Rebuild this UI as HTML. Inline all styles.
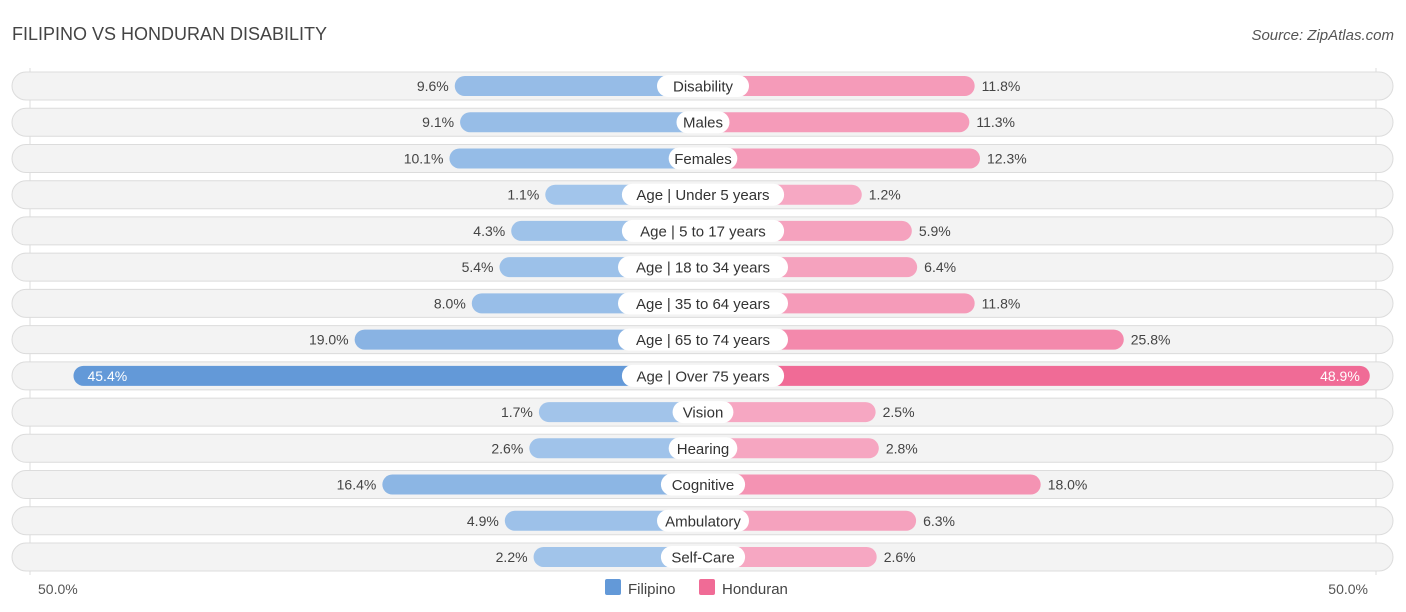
<!DOCTYPE html>
<html><head><meta charset="utf-8"><style>
body{margin:0;background:#fff;font-family:"Liberation Sans",sans-serif;}
svg{display:block}
text{font-family:"Liberation Sans",sans-serif;}
</style></head><body>
<svg id="chart" width="1406" height="612">
<text x="12" y="40" font-size="18" fill="#444">FILIPINO VS HONDURAN DISABILITY</text>
<text x="1394" y="40" font-size="15" fill="#555" font-style="italic" text-anchor="end">Source: ZipAtlas.com</text>
<line x1="30" y1="68" x2="30" y2="575" stroke="#ddd"/>
<line x1="1376" y1="68" x2="1376" y2="575" stroke="#ddd"/>
<g id="rows"></g>
<text x="38" y="594" font-size="14" fill="#555">50.0%</text>
<text x="1368" y="594" font-size="14" fill="#555" text-anchor="end">50.0%</text>
<rect x="605" y="579" width="16" height="16" rx="2" fill="#6399d8"/>
<text x="628" y="594" font-size="15" fill="#444">Filipino</text>
<rect x="699" y="579" width="16" height="16" rx="2" fill="#f06b96"/>
<text x="722" y="594" font-size="15" fill="#444">Honduran</text>
</svg>
<script>
const categories=["Disability","Males","Females","Age | Under 5 years","Age | 5 to 17 years","Age | 18 to 34 years","Age | 35 to 64 years","Age | 65 to 74 years","Age | Over 75 years","Vision","Hearing","Cognitive","Ambulatory","Self-Care"];
const filipino=[9.6,9.1,10.1,1.1,4.3,5.4,8.0,19.0,45.4,1.7,2.6,16.4,4.9,2.2];
const honduran=[11.8,11.3,12.3,1.2,5.9,6.4,11.8,25.8,48.9,2.5,2.8,18.0,6.3,2.6];
const NS="http://www.w3.org/2000/svg";
const cx=703, y0=86, step=36.23;
function w(v){return 146+10.65*v;}
function mk(tag,attrs){const e=document.createElementNS(NS,tag);for(const k in attrs)e.setAttribute(k,attrs[k]);return e;}
const g=document.getElementById('rows');
function mix(a,b,t){return a.map((x,i)=>Math.round(x+(b[i]-x)*t));}
categories.forEach((c,i)=>{
  const y=y0+i*step;
  const bg=mk('rect',{x:12,y:y-14,width:1381,height:28,rx:14,fill:'#f3f3f3',stroke:'#dcdcdc'});
  
  
  g.appendChild(bg);
  const fv=filipino[i], hv=honduran[i];
  const tf=Math.min(1,fv/45), th=Math.min(1,hv/49);
  const fc=mix([164,198,235],[99,153,216],tf), hc=mix([246,170,196],[240,107,150],th);
  const fw=w(fv), hw=w(hv);
  const fb=mk('rect',{x:cx-fw,y:y-10,width:fw,height:20,rx:10,fill:`rgb(${fc})`});
  
  
  g.appendChild(fb);
  const hb=mk('rect',{x:cx,y:y-10,width:hw,height:20,rx:10,fill:`rgb(${hc})`});
  
  
  g.appendChild(hb);
  const big=fv>40;
  const ft=mk('text',{x:big?cx-fw+14:cx-fw-6,y:y+5,'font-size':14,fill:big?'#fff':'#444','text-anchor':big?'start':'end'});
  ft.textContent=fv.toFixed(1)+'%';
  
  
  g.appendChild(ft);
  const bigh=hv>40;
  const ht=mk('text',{x:bigh?cx+hw-10:cx+hw+7,y:y+5,'font-size':14,fill:bigh?'#fff':'#444','text-anchor':bigh?'end':'start'});
  ht.textContent=hv.toFixed(1)+'%';
  
  
  g.appendChild(ht);
  const lw=c.length*7.8+14;
  const lb=mk('rect',{x:cx-lw/2,y:y-11,width:lw,height:22,rx:11,fill:'#fff'});
  
  
  g.appendChild(lb);
  const lt=mk('text',{x:cx,y:y+5.5,'font-size':15,fill:'#333','text-anchor':'middle'});
  lt.textContent=c;
  
  
  g.appendChild(lt);
});
</script>
</body></html>
